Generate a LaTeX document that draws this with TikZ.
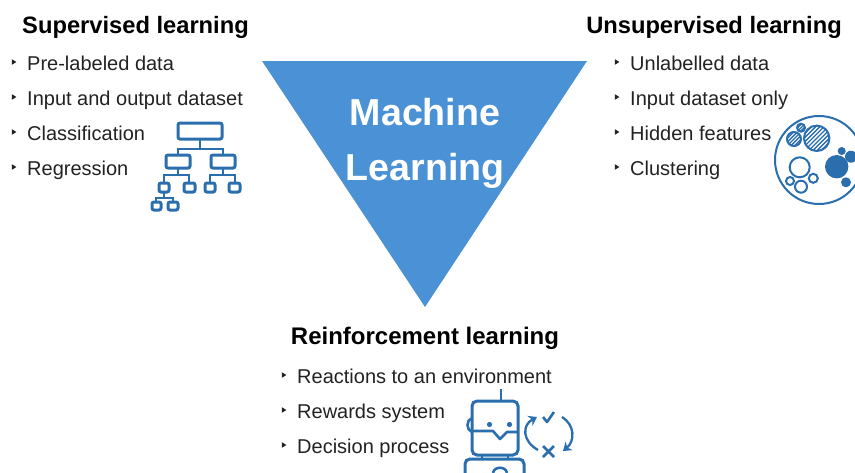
\documentclass[tikz,border=0pt]{standalone}
\usepackage{fontspec}
\setmainfont{Liberation Sans}
\usetikzlibrary{arrows.meta}
\definecolor{tri}{HTML}{4B91D6}
\definecolor{ico}{HTML}{2A6EAE}
\definecolor{txt}{HTML}{222222}
\tikzset{
  heading/.style={anchor=base,font=\fontsize{23.7}{26}\selectfont\bfseries,text=black,inner sep=0pt},
  item/.style={anchor=base west,font=\fontsize{20}{23}\selectfont,text=txt,inner sep=0pt},
  big/.style={anchor=base,font=\fontsize{37.6}{42}\selectfont\bfseries,text=white,inner sep=0pt},
  bul/.style={fill=txt,draw=none},
  icon/.style={draw=ico,line width=3pt,rounded corners=2pt,fill=none},
  wire/.style={draw=ico,line width=2.6pt},
  thin icon/.style={draw=ico,line width=2pt,fill=none},
  solid icon/.style={fill=ico,draw=none},
}
\newcommand{\bulletmark}[2]{\fill[bul] (#1-2.2,#2-2.8) -- (#1+2.4,#2) -- (#1-2.2,#2+2.8) -- cycle;}
\newcommand{\hatchcircle}[4]{%
  \begin{scope}
    \clip (#1,#2) circle (#3);
    \foreach \k in {-5,...,5} {
      \draw[draw=ico,line width=1.3pt] (#1+\k*#4-20,#2+20) -- (#1+\k*#4+20,#2-20);
    }
  \end{scope}
  \draw[thin icon] (#1,#2) circle (#3);
}
\begin{document}
\begin{tikzpicture}[x=1pt,y=-1pt]
\useasboundingbox (0,0) rectangle (855,472);
\clip (0,0) rectangle (855,472);
\fill[tri] (262,61) -- (587,61) -- (425,307) -- cycle;
\node[big] (m1) at (425,125) {Machine};
\node[big] (m2) at (425,180) {Learning};

\node[heading] (h1) at (135.5,33) {Supervised learning};
\node[heading] (h2) at (714,33) {Unsupervised learning};
\node[heading,font=\fontsize{24}{26}\selectfont\bfseries] (h3) at (425,344) {Reinforcement learning};

\node[item] (a1) at (27,70) {Pre-labeled data};
\node[item] (a2) at (27,105) {Input and output dataset};
\node[item] (a3) at (27,140) {Classification};
\node[item] (a4) at (27,175) {Regression};
\foreach \y in {62,97,132,167} {\bulletmark{14}{\y}}

\node[item] (b1) at (630,70) {Unlabelled data};
\node[item] (b2) at (630,105) {Input dataset only};
\node[item] (b3) at (630,140) {Hidden features};
\node[item] (b4) at (630,175) {Clustering};
\foreach \y in {62,97,132,167} {\bulletmark{617}{\y}}

\node[item] (c1) at (297,383) {Reactions to an environment};
\node[item] (c2) at (297,418) {Rewards system};
\node[item] (c3) at (297,453) {Decision process};
\foreach \y in {375,410,445} {\bulletmark{284}{\y}}

% tree icon
\draw[icon] (178,123) rectangle (222,139);
\draw[wire] (200,139) -- (200,149) (178,155) -- (178,149) -- (223,149) -- (223,155);
\draw[icon] (166,155) rectangle (190,168);
\draw[icon] (211,155) rectangle (235,168);
\draw[wire] (178,168) -- (178,175) (164,183) -- (164,175) -- (189,175) -- (189,183);
\draw[wire] (223,168) -- (223,175) (210,183) -- (210,175) -- (235,175) -- (235,183);
\draw[icon] (159,183) rectangle (169,192);
\draw[icon] (184,183) rectangle (195,192);
\draw[icon] (205,183) rectangle (215,192);
\draw[icon] (229,183) rectangle (240,192);
\draw[wire] (164,192) -- (164,198) (156,202) -- (156,198) -- (173,198) -- (173,202);
\draw[icon] (152,202) rectangle (161,210);
\draw[icon] (168,202) rectangle (178,210);

% cluster icon
\draw[thin icon] (819,160) circle (44);
\hatchcircle{816.7}{138.3}{12.7}{4.2}
\hatchcircle{794}{139}{7}{3.6}
\hatchcircle{801}{127.7}{4}{3.2}
\draw[thin icon] (799.7,167.3) circle (10);
\draw[thin icon] (790,181) circle (4);
\draw[thin icon] (801,186.7) circle (6);
\draw[thin icon] (813.3,178.3) circle (4.5);
\fill[solid icon] (836.7,166.7) circle (11.7);
\fill[solid icon] (841.7,151) circle (4);
\fill[solid icon] (851,156.7) circle (6);
\fill[solid icon] (846,182.3) circle (5);

% robot icon
\draw[wire] (501,389) -- (501,401);
\draw[icon,rounded corners=5pt] (472,401) rectangle (518,455);
\draw[wire] (472,418) .. controls (466,420) and (466,430) .. (472,432);
\fill[solid icon] (489.5,424.5) circle (2.6);
\fill[solid icon] (509.5,424.5) circle (2.6);
\draw[wire,line join=round] (472,431) -- (493,431) -- (500,439) -- (507,432) -- (518,432);
\draw[wire] (482,455) -- (482,460) (508,455) -- (508,460);
\draw[icon,rounded corners=5pt] (465,480) -- (465,459) -- (524,459) -- (524,480);
\draw[wire] (493,473) .. controls (494,466) and (506,466) .. (507,473);
\draw[wire,line width=2.3pt,-{Stealth[length=8pt,width=11pt]}] (538,450) .. controls (522,441) and (522,425) .. (537,417);
\draw[wire,line width=2.3pt,-{Stealth[length=8pt,width=11pt]}] (562,417) .. controls (575,425) and (575,441) .. (563,451);
\draw[wire,line width=2.6pt,line join=round] (543,417) -- (547,422) -- (554,412);
\draw[wire,line width=2.6pt] (543,446) -- (554,457) (554,446) -- (543,457);
\end{tikzpicture}
\end{document}
